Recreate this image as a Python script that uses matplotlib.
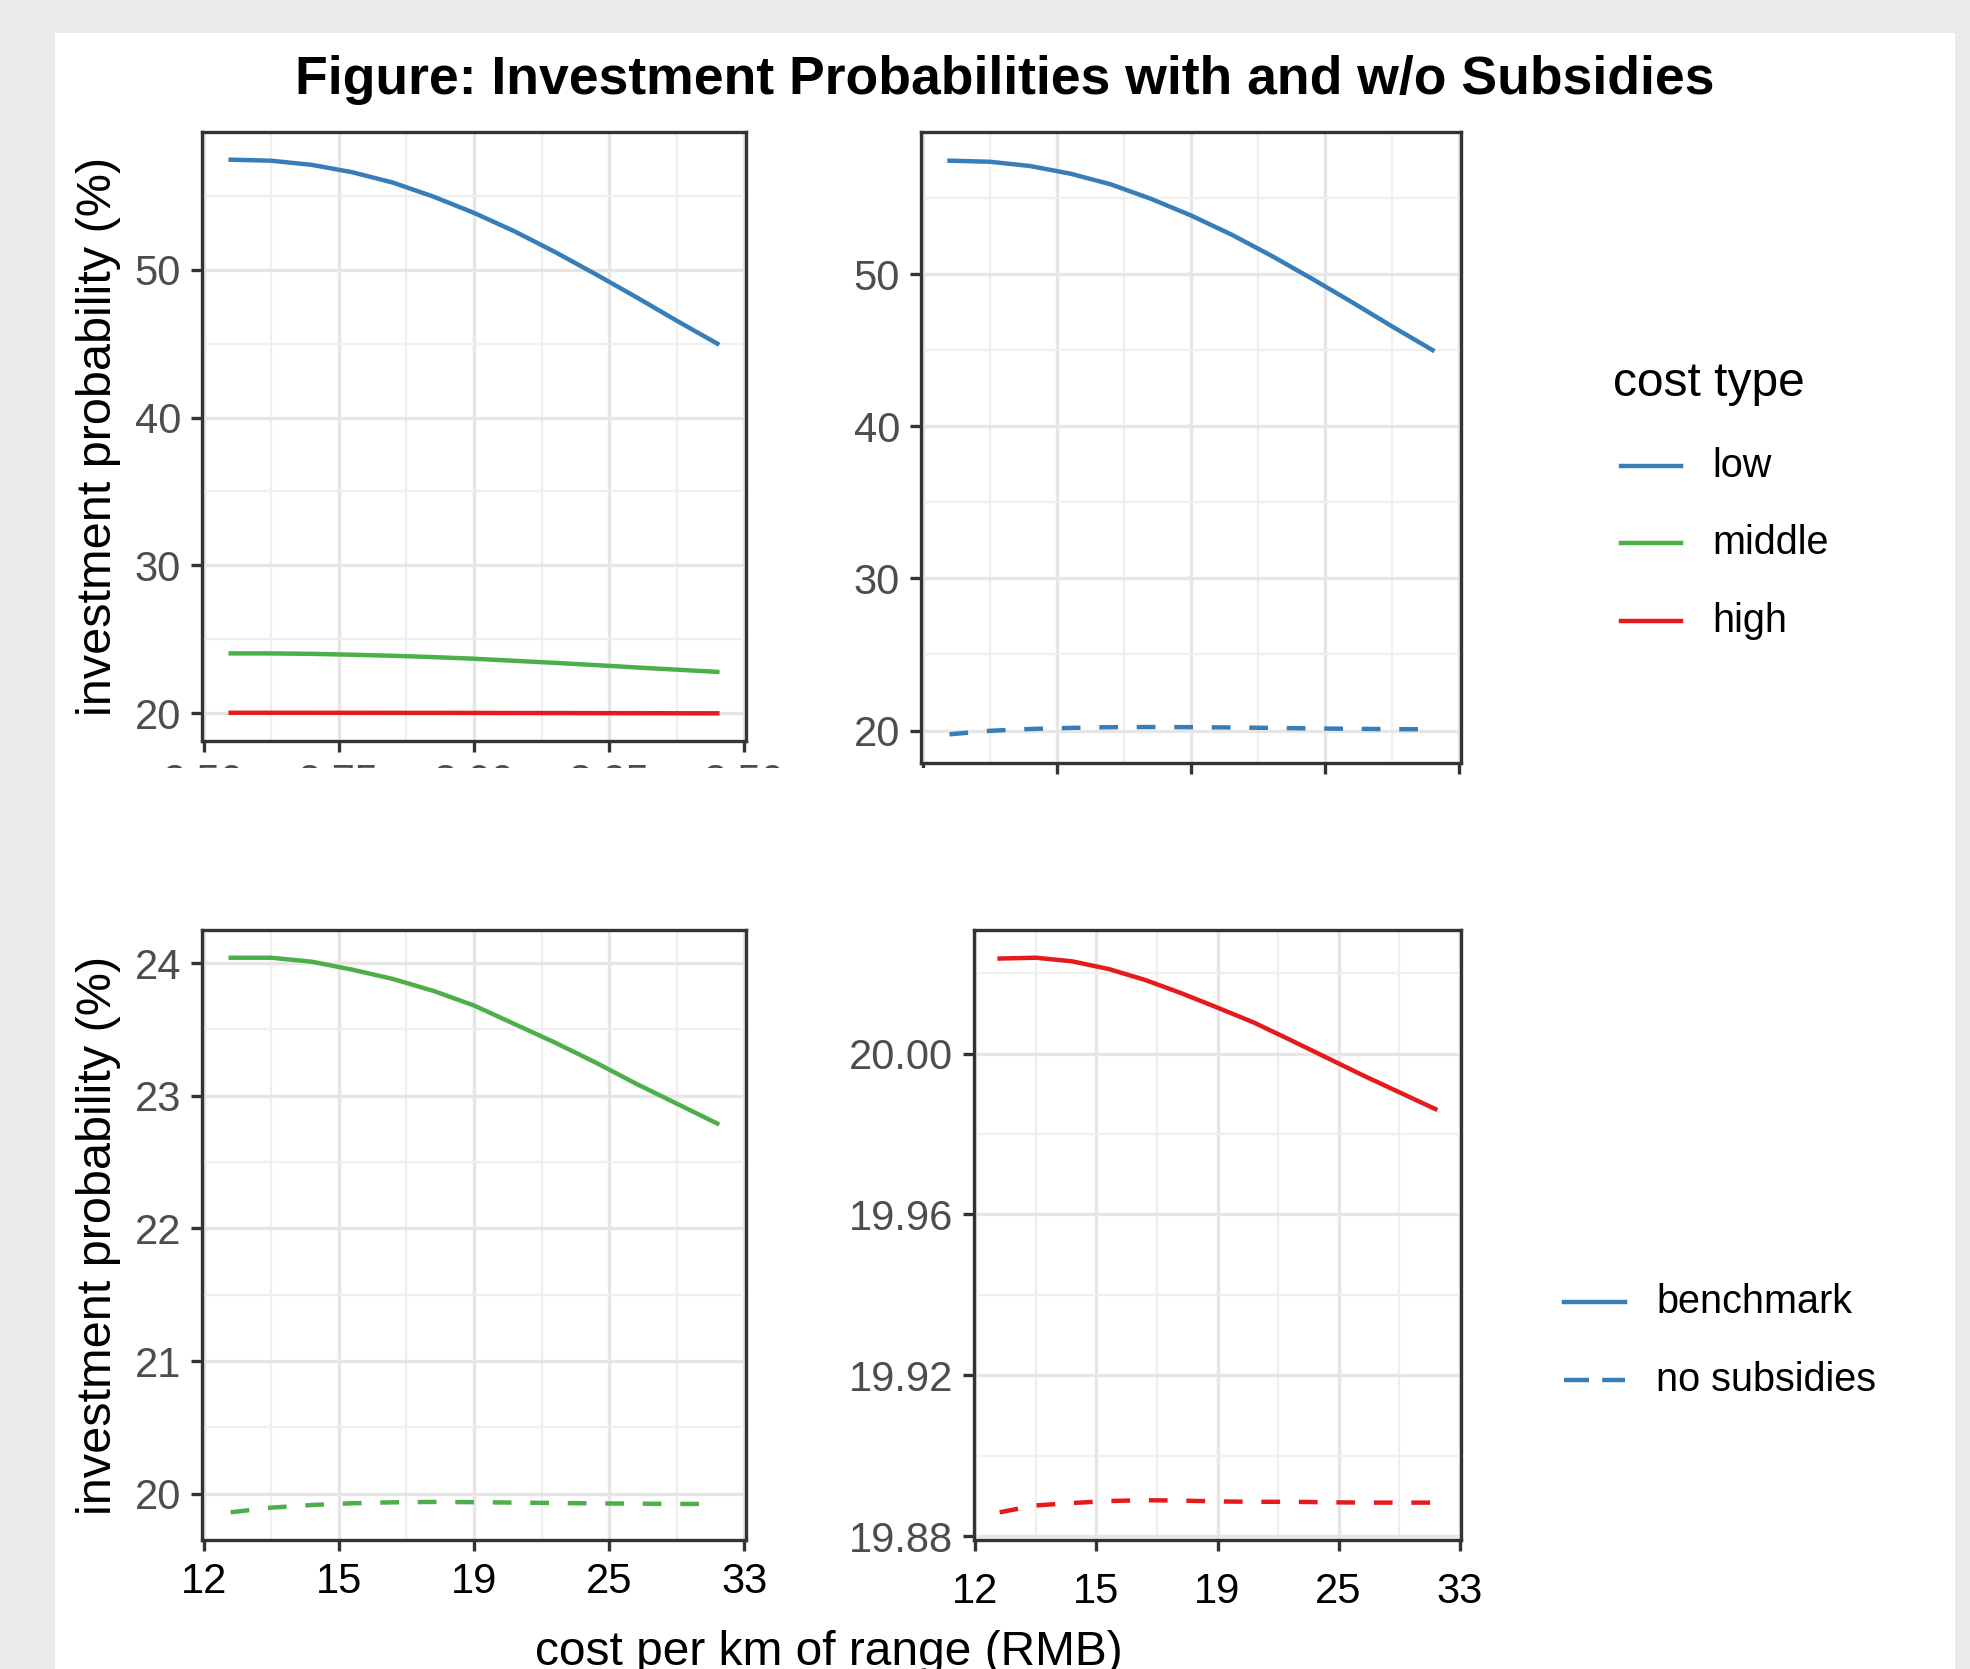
import matplotlib
matplotlib.use("Agg")
import matplotlib.pyplot as plt
from matplotlib.patches import Rectangle
from matplotlib.lines import Line2D
from matplotlib.ticker import FormatStrFormatter

plt.rcParams['font.family'] = ['Liberation Sans', 'DejaVu Sans']
plt.rcParams['lines.scale_dashes'] = False

# Data
x = [2.55, 2.625, 2.70, 2.775, 2.85, 2.925, 3.00, 3.075, 3.15, 3.225, 3.30, 3.375, 3.45]
x_ticks = [2.5, 2.75, 3.0, 3.25, 3.5]
x_minor = [2.625, 2.875, 3.125, 3.375]
x_ticklabels = ['12', '15', '19', '25', '33']
x_ticklabels_top = ['2.50', '2.75', '3.00', '3.25', '3.50']

low_bench = [57.45, 57.38, 57.1, 56.6, 55.9, 54.95, 53.85, 52.6, 51.2, 49.7, 48.15, 46.55, 45.0]
low_nosub = [19.75, 19.98, 20.1, 20.17, 20.22, 20.23, 20.22, 20.2, 20.17, 20.14, 20.11, 20.09, 20.08]
mid_bench = [24.04, 24.04, 24.01, 23.95, 23.88, 23.79, 23.68, 23.54, 23.40, 23.25, 23.09, 22.94, 22.79]
mid_nosub = [19.86, 19.895, 19.915, 19.928, 19.935, 19.938, 19.936, 19.933, 19.93, 19.927, 19.925, 19.923, 19.923]
high_bench = [20.0236, 20.0238, 20.0229, 20.0210, 20.0183, 20.0150, 20.0114, 20.0077, 20.0034, 19.9990, 19.9946, 19.9904, 19.9862]
high_nosub = [19.886, 19.8877, 19.8883, 19.8888, 19.889, 19.8889, 19.8887, 19.8886, 19.8886, 19.8885, 19.8884, 19.8884, 19.8884]

cost_types = ['low', 'middle', 'high']
scenarios = ['benchmark', 'no subsidies']
colors = {'low': '#377EB8', 'middle': '#4DAF4A', 'high': '#E41A1C'}

W, H = 1970, 1669
fig = plt.figure(figsize=(W / 100, H / 100), dpi=100)
fig.patch.set_facecolor('#ebebeb')
fig.add_artist(Rectangle((55 / W, 0), 1900 / W, 1 - 33 / H, transform=fig.transFigure,
                         facecolor='white', edgecolor='none', zorder=-10))

LW = 3.2
DASH = (13.5, 13.5)


def px_axes(left, top, right, bottom):
    return fig.add_axes([left / W, 1 - bottom / H, (right - left) / W, (bottom - top) / H])


def style(ax, series, yticks, yminor, fmt):
    lo = min(min(s) for s in series)
    hi = max(max(s) for s in series)
    r = hi - lo
    ax.set_ylim(lo - 0.05 * r, hi + 0.05 * r)
    ax.set_xlim(2.497, 3.503)
    ax.set_xticks(x_ticks)
    ax.set_xticks(x_minor, minor=True)
    ax.set_yticks(yticks)
    ax.set_yticks(yminor, minor=True)
    ax.yaxis.set_major_formatter(FormatStrFormatter(fmt))
    ax.grid(which='major', color='#e6e6e6', lw=2.4)
    ax.grid(which='minor', color='#efefef', lw=1.6)
    ax.set_axisbelow(True)
    for s in ax.spines.values():
        s.set_color('#333333')
        s.set_linewidth(2.4)
    ax.tick_params(which='major', length=8, width=2.4, color='#333333',
                   labelsize=30, labelcolor='#4d4d4d', pad=7)
    ax.tick_params(which='minor', length=0)


# top-left: all benchmarks
ax1 = px_axes(202, 132, 746, 741)
ax1.plot(x, low_bench, color=colors['low'], lw=LW)
ax1.plot(x, mid_bench, color=colors['middle'], lw=LW)
ax1.plot(x, high_bench, color=colors['high'], lw=LW)
style(ax1, [low_bench, mid_bench, high_bench], [20, 30, 40, 50], [25, 35, 45, 55], '%d')
ax1.set_xticklabels(x_ticklabels_top)
ax1.tick_params(axis='x', pad=8)

# top-right: low cost
ax2 = px_axes(921, 132, 1461, 763)
ax2.plot(x, low_bench, color=colors['low'], lw=LW)
ax2.plot(x, low_nosub, color=colors['low'], lw=LW, ls='--', dashes=DASH)
style(ax2, [low_bench, low_nosub], [20, 30, 40, 50], [25, 35, 45, 55], '%d')
ax2.set_xticklabels([])

# bottom-left: middle cost
ax3 = px_axes(202, 930, 746, 1540)
ax3.plot(x, mid_bench, color=colors['middle'], lw=LW)
ax3.plot(x, mid_nosub, color=colors['middle'], lw=LW, ls='--', dashes=DASH)
style(ax3, [mid_bench, mid_nosub], [20, 21, 22, 23, 24], [20.5, 21.5, 22.5, 23.5], '%d')
ax3.set_xticklabels(x_ticklabels)
ax3.tick_params(axis='x', labelcolor='black', pad=8)

# bottom-right: high cost
ax4 = px_axes(974, 930, 1461, 1540)
ax4.plot(x, high_bench, color=colors['high'], lw=LW)
ax4.plot(x, high_nosub, color=colors['high'], lw=LW, ls='--', dashes=DASH)
style(ax4, [high_bench, high_nosub], [19.88, 19.92, 19.96, 20.00],
      [19.90, 19.94, 19.98, 20.02], '%.2f')
ax4.set_xticklabels(x_ticklabels)
ax4.tick_params(axis='x', labelcolor='black', pad=15)

for ax in (ax1, ax3):
    ax.set_ylabel('investment probability (%)', fontsize=35, color='black')
    ax.yaxis.set_label_coords((121 - 202) / 544, 0.5)

# screenshot crop below the top-left x labels
fig.add_artist(Rectangle((55 / W, 1 - 900 / H), 900 / W, (900 - 768) / H,
                         transform=fig.transFigure, facecolor='white',
                         edgecolor='none', zorder=5))

fig.text(1005 / W, 1 - 80 / H, 'Figure: Investment Probabilities with and w/o Subsidies',
         ha='center', va='center', fontsize=38.5, fontweight='bold')
fig.text(829 / W, 1 - 1665 / H, 'cost per km of range (RMB)',
         ha='center', va='baseline', fontsize=34.5)

# legend: cost type
fig.text(1613 / W, 1 - 383 / H, 'cost type', ha='left', va='center', fontsize=34.5)
for name, ypx in zip(cost_types, [466, 543, 621]):
    fig.add_artist(Line2D([1621 / W, 1681 / W], [1 - ypx / H] * 2, transform=fig.transFigure,
                          color=colors[name], lw=LW))
    fig.text(1712 / W, 1 - ypx / H, name, ha='left', va='center', fontsize=28.5)

# legend: scenario
for name, ls, ypx in zip(scenarios, ['-', '--'], [1302, 1380]):
    ln = Line2D([1564 / W, 1625 / W], [1 - ypx / H] * 2, transform=fig.transFigure,
                color=colors['low'], lw=LW, ls=ls)
    if ls == '--':
        ln.set_dashes((18, 9.5))
    fig.add_artist(ln)
    fig.text(1656 / W, 1 - ypx / H, name, ha='left', va='center', fontsize=28.5)

fig.savefig('out.png', dpi=100, facecolor=fig.get_facecolor())
